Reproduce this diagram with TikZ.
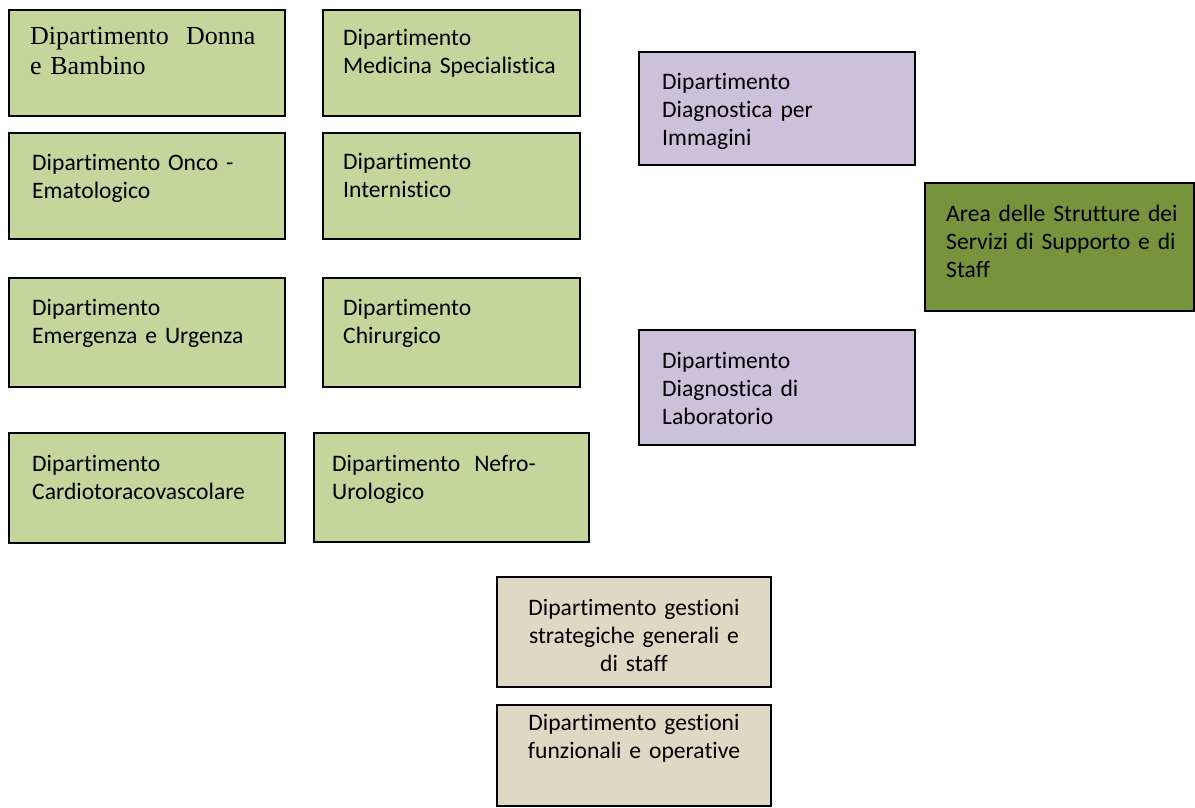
\documentclass[tikz,border=0pt]{standalone}
\usepackage{fontspec}
\setmainfont[Ligatures=NoCommon]{Carlito}
\newfontfamily\serifx[Ligatures=NoCommon]{Liberation Serif}
\definecolor{lgreen}{HTML}{C3D69B}
\definecolor{lpurple}{HTML}{CCC1DA}
\definecolor{dgreen}{HTML}{77933C}
\definecolor{beige}{HTML}{DDD9C3}
\tikzset{
  box/.style={draw=black, line width=1.6pt, inner sep=0pt},
  txt/.style={anchor=base west, inner sep=0pt, text width=300pt, align=left,
    font=\fontsize{23.6}{28.3}\selectfont},
  ctxt/.style={anchor=base, inner sep=0pt, text width=300pt, align=center,
    font=\fontsize{23.6}{28.3}\selectfont},
  stxt/.style={anchor=base west, inner sep=0pt, text width=300pt, align=left,
    font=\serifx\fontsize{26}{30.5}\selectfont}
}
\begin{document}
\begin{tikzpicture}[x=1pt,y=-1pt]
\useasboundingbox (0,0) rectangle (1195,807);
% green boxes
\draw[box, fill=lgreen] (9,10) rectangle (285,116) coordinate (b1);
\draw[box, fill=lgreen] (323,10) rectangle (580,116) coordinate (b2);
\draw[box, fill=lgreen] (9,133) rectangle (285,239) coordinate (b3);
\draw[box, fill=lgreen] (323,133) rectangle (580,239) coordinate (b4);
\draw[box, fill=lgreen] (9,278) rectangle (285,387) coordinate (b5);
\draw[box, fill=lgreen] (323,278) rectangle (580,387) coordinate (b6);
\draw[box, fill=lgreen] (9,433) rectangle (285,543) coordinate (b7);
\draw[box, fill=lgreen] (314,433) rectangle (589,542) coordinate (b8);
% purple
\draw[box, fill=lpurple] (639,52) rectangle (915,165) coordinate (p1);
\draw[box, fill=lpurple] (639,330) rectangle (915,445) coordinate (p2);
% dark green
\draw[box, fill=dgreen] (925,183) rectangle (1194,311) coordinate (a1);
% beige
\draw[box, fill=beige] (497,577) rectangle (771,687) coordinate (g1);
\draw[box, fill=beige] (497,705) rectangle (771,806) coordinate (g2);

\node[stxt] (tb1) at (30,44) {Dipartimento\ \ Donna\\e Bambino};
\node[txt] (tb2) at (343,45) {Dipartimento\\Medicina Specialistica};
\node[txt] (tb3) at (32,170) {Dipartimento Onco -\\Ematologico};
\node[txt] (tb4) at (343,169) {Dipartimento\\Internistico};
\node[txt] (tb5) at (32,315) {Dipartimento\\Emergenza e Urgenza};
\node[txt] (tb6) at (343,315) {Dipartimento\\Chirurgico};
\node[txt] (tb7) at (32,471) {Dipartimento\\Cardiotoracovascolare};
\node[txt] (tb8) at (332,471) {Dipartimento\hspace{14pt}Nefro-\\Urologico};
\node[txt] (tp1) at (662,89) {Dipartimento\\Diagnostica per\\Immagini};
\node[txt] (tp2) at (662,368) {Dipartimento\\Diagnostica di\\Laboratorio};
\node[txt] (ta1) at (946,221) {Area delle Strutture dei\\Servizi di Supporto e di\\Staff};
\node[ctxt] (tg1) at (634,615) {Dipartimento gestioni\\strategiche generali e\\di staff};
\node[ctxt] (tg2) at (634,730) {Dipartimento gestioni\\funzionali e operative};
\end{tikzpicture}
\end{document}
